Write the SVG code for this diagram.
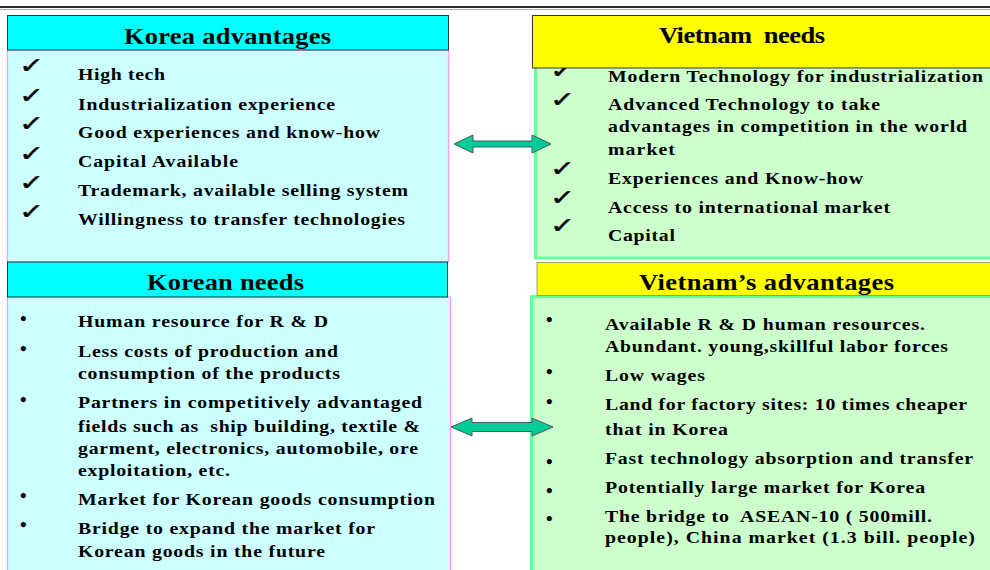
<svg xmlns="http://www.w3.org/2000/svg" width="990" height="570" viewBox="0 0 990 570">
  <style>
    .t { font-family: "Liberation Serif", "Times New Roman", serif; font-weight: bold; font-size: 16.5px; fill: #000; }
    .h { font-family: "Liberation Serif", "Times New Roman", serif; font-weight: bold; font-size: 23px; fill: #000; }
    .ck { font-family: "DejaVu Sans", sans-serif; font-size: 20px; fill: #000; stroke: #000; stroke-width: 0.4; }
    .bl { font-family: "Liberation Serif", "Times New Roman", serif; font-weight: bold; font-size: 19px; fill: #000; }
    .hdr-cyan { fill: #00FFFF; stroke: #333; stroke-width: 1; }
    .hdr-yellow { fill: #FFFF00; stroke: #333; stroke-width: 1; }
    .body-cyan { fill: #CCFFFF; stroke: #FF99FF; stroke-width: 1.2; }
    .body-green { fill: #CCFFCC; stroke: #66FF99; stroke-width: 3; }
    .arrow { fill: #00CC99; stroke: #4d5a55; stroke-width: 1; }
  </style>
  <defs>
    <!-- check-mark bullet, widened -->
    <text id="ck" class="ck" transform="scale(1.5 1.1)">✓</text>
  </defs>

  <rect x="0" y="0" width="990" height="570" fill="#ffffff"/>

  <!-- rule along the top -->
  <line x1="0" y1="7" x2="990" y2="7" stroke="#2a2a2a" stroke-width="2"/>
  <line x1="0" y1="9.5" x2="990" y2="9.5" stroke="#b0b0b0" stroke-width="1"/>

  <!-- Korea advantages -->
  <g id="korea-advantages">
    <rect class="body-cyan" x="7.5" y="50" width="441" height="212"/>
    <rect class="hdr-cyan" x="7.5" y="15.5" width="441" height="34.5"/>
    <text class="h" transform="translate(124 44) scale(1.15 1)" textLength="180" lengthAdjust="spacing">Korea advantages</text>
    <use href="#ck" x="19" y="73"/>
    <use href="#ck" x="19" y="103"/>
    <use href="#ck" x="19" y="131"/>
    <use href="#ck" x="19" y="161"/>
    <use href="#ck" x="19" y="190"/>
    <use href="#ck" x="19" y="219"/>
    <g transform="translate(78 0) scale(1.2 1)">
      <text class="t" y="80" textLength="72.5" lengthAdjust="spacing">High tech</text>
      <text class="t" y="110" textLength="214.2" lengthAdjust="spacing">Industrialization experience</text>
      <text class="t" y="138" textLength="251.7" lengthAdjust="spacing">Good experiences and know-how</text>
      <text class="t" y="167" textLength="133.3" lengthAdjust="spacing">Capital Available</text>
      <text class="t" y="196" textLength="275" lengthAdjust="spacing">Trademark, available selling system</text>
      <text class="t" y="225" textLength="272.5" lengthAdjust="spacing">Willingness to transfer technologies</text>
    </g>
  </g>

  <!-- Vietnam needs -->
  <g id="vietnam-needs">
    <rect class="body-green" x="535.5" y="55" width="470" height="203"/>
    <use href="#ck" x="550" y="78"/>
    <rect class="hdr-yellow" x="532.5" y="15.5" width="470" height="52.5"/>
    <text class="h" transform="translate(659 43) scale(1.15 1)" textLength="144.3" lengthAdjust="spacing" xml:space="preserve">Vietnam  needs</text>
    <use href="#ck" x="550" y="107"/>
    <use href="#ck" x="550" y="176"/>
    <use href="#ck" x="550" y="205"/>
    <use href="#ck" x="550" y="233"/>
    <g transform="translate(608 0) scale(1.2 1)">
      <text class="t" y="82" textLength="312.5" lengthAdjust="spacing">Modern Technology for industrialization</text>
      <text class="t" y="110" textLength="226.7" lengthAdjust="spacing">Advanced Technology to take</text>
      <text class="t" y="132" textLength="299.2" lengthAdjust="spacing">advantages in competition in the world</text>
      <text class="t" y="155" textLength="55.8" lengthAdjust="spacing">market</text>
      <text class="t" y="184" textLength="212.5" lengthAdjust="spacing">Experiences and Know-how</text>
      <text class="t" y="213" textLength="235" lengthAdjust="spacing">Access to international market</text>
      <text class="t" y="241" textLength="55.8" lengthAdjust="spacing">Capital</text>
    </g>
  </g>

  <!-- Korean needs -->
  <g id="korean-needs">
    <rect class="body-cyan" x="7.5" y="297" width="443" height="280"/>
    <rect class="hdr-cyan" x="7.5" y="262" width="440" height="35"/>
    <text class="h" transform="translate(147 290) scale(1.15 1)" textLength="136.5" lengthAdjust="spacing">Korean needs</text>
    <text class="bl" x="20" y="325">•</text>
    <text class="bl" x="20" y="355">•</text>
    <text class="bl" x="20" y="406">•</text>
    <text class="bl" x="20" y="502">•</text>
    <text class="bl" x="20" y="531">•</text>
    <g transform="translate(78 0) scale(1.2 1)">
      <text class="t" y="327" textLength="208.3" lengthAdjust="spacing">Human resource for R &amp; D</text>
      <text class="t" y="357" textLength="216.7" lengthAdjust="spacing">Less costs of production and</text>
      <text class="t" y="379" textLength="218.3" lengthAdjust="spacing">consumption of the products</text>
      <text class="t" y="408" textLength="286.7" lengthAdjust="spacing">Partners in competitively advantaged</text>
      <text class="t" y="432" textLength="285" lengthAdjust="spacing" xml:space="preserve">fields such as  ship building, textile &amp;</text>
      <text class="t" y="454" textLength="283.3" lengthAdjust="spacing">garment, electronics, automobile, ore</text>
      <text class="t" y="476" textLength="126.7" lengthAdjust="spacing">exploitation, etc.</text>
      <text class="t" y="505" textLength="297.5" lengthAdjust="spacing">Market for Korean goods consumption</text>
      <text class="t" y="534" textLength="247.5" lengthAdjust="spacing">Bridge to expand the market for</text>
      <text class="t" y="557" textLength="205.8" lengthAdjust="spacing">Korean goods in the future</text>
    </g>
  </g>

  <!-- Vietnam's advantages -->
  <g id="vietnam-advantages">
    <rect class="body-green" x="531.5" y="296.5" width="470" height="280"/>
    <rect x="537" y="262.5" width="460" height="33" fill="#FFFF00" stroke="#8a8a60" stroke-width="0.8"/>
    <text class="h" transform="translate(639 290) scale(1.15 1)" textLength="221.7" lengthAdjust="spacing">Vietnam’s advantages</text>
    <text class="bl" x="546" y="326">•</text>
    <text class="bl" x="546" y="378">•</text>
    <text class="bl" x="546" y="408">•</text>
    <text class="bl" x="546" y="468">•</text>
    <text class="bl" x="546" y="497">•</text>
    <text class="bl" x="546" y="525">•</text>
    <g transform="translate(605 0) scale(1.2 1)">
      <text class="t" y="330" textLength="266.7" lengthAdjust="spacing">Available R &amp; D human resources.</text>
      <text class="t" y="352" textLength="285.8" lengthAdjust="spacing">Abundant. young,skillful labor forces</text>
      <text class="t" y="381" textLength="83.3" lengthAdjust="spacing">Low wages</text>
      <text class="t" y="410" textLength="301.7" lengthAdjust="spacing">Land for factory sites: 10 times cheaper</text>
      <text class="t" y="435" textLength="102.5" lengthAdjust="spacing">that in Korea</text>
      <text class="t" y="464" textLength="306.7" lengthAdjust="spacing">Fast technology absorption and transfer</text>
      <text class="t" y="493" textLength="266.7" lengthAdjust="spacing">Potentially large market for Korea</text>
      <text class="t" y="522" textLength="272.5" lengthAdjust="spacing" xml:space="preserve">The bridge to  ASEAN-10 ( 500mill.</text>
      <text class="t" y="543" textLength="308.3" lengthAdjust="spacing">people), China market (1.3 bill. people)</text>
    </g>
  </g>

  <!-- two-way connectors -->
  <g id="connectors">
    <polygon class="arrow" points="454,144 473,135 473,141 532,141 532,135 551,144 532,153 532,147 473,147 473,153"/>
    <polygon class="arrow" points="451,427 472,418 472,422.5 532,422.5 532,418 553,427 532,436 532,431.5 472,431.5 472,436"/>
  </g>
</svg>
